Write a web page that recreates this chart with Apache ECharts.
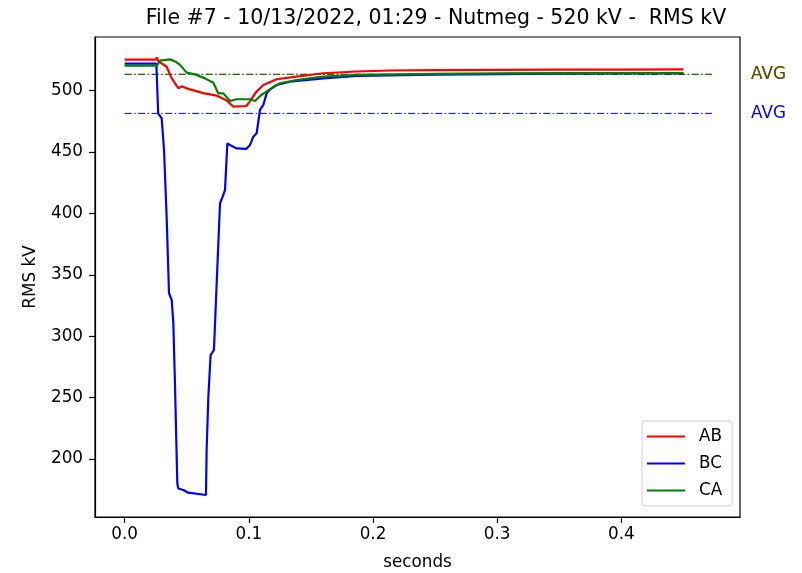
<!DOCTYPE html>
<html>
<head>
<meta charset="utf-8">
<script src="https://cdn.jsdelivr.net/npm/echarts@6/dist/echarts.min.js"></script>
<style>
  body { margin: 0; background: #fff; }
  #chart { width: 802px; height: 573px; }
</style>
</head>
<body>
<div id="chart"></div>
<script>
// time (s) and RMS kV
const tAB = [0, 0.025, 0.0262, 0.027, 0.0338, 0.0379, 0.0432, 0.046, 0.0526, 0.0633, 0.074, 0.0822, 0.0875, 0.098, 0.101, 0.106, 0.1117, 0.1224, 0.1385, 0.16, 0.187, 0.2137, 0.25, 0.3, 0.35, 0.4, 0.45];
const vAB = [525.3, 525.3, 527, 524, 519.5, 510, 502, 503.5, 501, 498, 496, 492, 487, 487.5, 491.5, 499, 504.6, 509.3, 511.4, 514.2, 515.6, 516.4, 516.8, 517, 517.1, 517.2, 517.3];

const tBC = [0, 0.0255, 0.027, 0.0298, 0.0317, 0.0338, 0.0357, 0.0379, 0.0392, 0.0405, 0.0424, 0.0432, 0.0472, 0.0512, 0.0655, 0.066, 0.0674, 0.0692, 0.0719, 0.0741, 0.0768, 0.0789, 0.0808, 0.0827, 0.0848, 0.09, 0.098, 0.101, 0.1036, 0.1063, 0.109, 0.1117, 0.1144, 0.117, 0.1224, 0.133, 0.16, 0.187, 0.25, 0.3, 0.35, 0.4, 0.45];
const vBC = [522, 522, 481.6, 477.5, 451.7, 397.4, 335, 329.5, 310.5, 261.7, 180, 176, 174.8, 172.6, 170.7, 207, 250.7, 284.7, 288.8, 343, 408.3, 413.7, 419, 457, 455.8, 453, 452.6, 455.8, 462.5, 465.3, 484.3, 488.4, 497.9, 501, 504.6, 507.3, 510, 512, 513, 513.5, 513.8, 514, 514];

const tCA = [0, 0.026, 0.0284, 0.0365, 0.041, 0.0445, 0.05, 0.058, 0.0647, 0.0714, 0.0754, 0.0795, 0.0848, 0.09, 0.101, 0.105, 0.11, 0.117, 0.125, 0.1385, 0.16, 0.187, 0.25, 0.3, 0.35, 0.4, 0.45];
const vCA = [520.4, 520.4, 524.4, 525.5, 523.6, 521, 514.7, 512.8, 510, 506.5, 497.8, 497.8, 491.6, 493, 493, 491.6, 496.5, 501, 506, 508.7, 511.4, 512.8, 513.6, 514, 514.2, 514.3, 514.4];

const avgEnd = 0.473;
const avgAB = 513.4;
const avgBC = 481.5;
const avgCA = 513.2;

const xTicks = [0, 0.1, 0.2, 0.3, 0.4];
const yTicks = [200, 250, 300, 350, 400, 450, 500];

const font = 'DejaVu Sans';
const fs = 16.8;

function pairs(t, v) {
  return t.map(function (x, i) { return [x, v[i]]; });
}

function avgLine(name, color, val) {
  return {
    name: name,
    type: 'line',
    data: [[0, val], [avgEnd, val]],
    showSymbol: false,
    symbol: 'none',
    silent: true,
    lineStyle: { color: color, width: 1, type: [7, 2.5, 1.5, 2.5] },
    z: 1
  };
}

let myChart = echarts.init(document.getElementById('chart'));
myChart.setOption({
  animation: false,
  backgroundColor: '#fff',
  title: {
    text: 'File #7 - 10/13/2022, 01:29 - Nutmeg - 520 kV -  RMS kV',
    left: 431,
    top: 3,
    textAlign: 'center',
    textStyle: { fontFamily: font, fontSize: 20.5, fontWeight: 'normal', color: '#000' }
  },
  grid: {
    left: 95, right: 62, top: 37, bottom: 56,
    outerBoundsMode: 'none',
    show: true, borderColor: '#000', borderWidth: 1.2, backgroundColor: '#fff'
  },
  legend: {
    data: ['AB', 'BC', 'CA'],
    orient: 'vertical',
    left: 642,
    top: 421,
    padding: [6, 10, 6, 5],
    itemGap: 8,
    itemWidth: 38,
    itemHeight: 2,
    icon: 'rect',
    selectedMode: false,
    backgroundColor: '#fff',
    borderColor: '#d0d0d0',
    borderWidth: 1,
    borderRadius: 3,
    textStyle: { fontFamily: font, fontSize: fs, color: '#000', lineHeight: 19, padding: [0, 0, 0, 9] }
  },
  xAxis: {
    type: 'value',
    min: -0.0239,
    max: 0.4956,
    name: 'seconds',
    nameLocation: 'middle',
    nameGap: 37,
    nameTextStyle: { fontFamily: font, fontSize: fs, color: '#000' },
    axisLine: { show: true, onZero: false, lineStyle: { color: '#000', width: 1.2 } },
    axisTick: { show: true, length: 6, customValues: xTicks, lineStyle: { color: '#000', width: 1.2 } },
    axisLabel: {
      customValues: xTicks, margin: 9, fontFamily: font, fontSize: fs, color: '#000',
      formatter: function (v) { return v.toFixed(1); }
    },
    splitLine: { show: false }
  },
  yAxis: {
    type: 'value',
    min: 152.8,
    max: 543.7,
    name: 'RMS kV',
    nameLocation: 'middle',
    nameGap: 56,
    nameTextStyle: { fontFamily: font, fontSize: fs, color: '#000' },
    axisLine: { show: true, onZero: false, lineStyle: { color: '#000', width: 1.2 } },
    axisTick: { show: true, length: 6, customValues: yTicks, lineStyle: { color: '#000', width: 1.2 } },
    axisLabel: { customValues: yTicks, margin: 12, fontFamily: font, fontSize: fs, color: '#000' },
    splitLine: { show: false }
  },
  series: [
    { name: 'AB', type: 'line', data: pairs(tAB, vAB), showSymbol: false, symbol: 'none',
      lineStyle: { color: '#ff0000', width: 2.2 }, itemStyle: { color: '#ff0000' }, z: 3 },
    { name: 'BC', type: 'line', data: pairs(tBC, vBC), showSymbol: false, symbol: 'none',
      lineStyle: { color: '#0000ff', width: 2.2 }, itemStyle: { color: '#0000ff' }, z: 2 },
    { name: 'CA', type: 'line', data: pairs(tCA, vCA), showSymbol: false, symbol: 'none',
      lineStyle: { color: '#008000', width: 2.2 }, itemStyle: { color: '#008000' }, z: 4 },
    avgLine('AB avg', '#ff0000', avgAB),
    avgLine('BC avg', '#0000ff', avgBC),
    avgLine('CA avg', '#008000', avgCA)
  ]
});

// AVG labels to the right of the plot, placed through the axes
const labelX = 0.5045;
function avgText(val, color, opacity) {
  const p = myChart.convertToPixel({ gridIndex: 0 }, [labelX, val]);
  return {
    type: 'text', x: p[0], y: p[1],
    style: { text: 'AVG', fill: color, opacity: opacity, font: fs + 'px "DejaVu Sans"', textAlign: 'left', textVerticalAlign: 'middle' }
  };
}
myChart.setOption({
  graphic: [avgText(avgAB, '#ff0000', 1), avgText(avgCA, '#008000', 0.75), avgText(avgBC, '#0000ff', 1)]
});
</script>
</body>
</html>
